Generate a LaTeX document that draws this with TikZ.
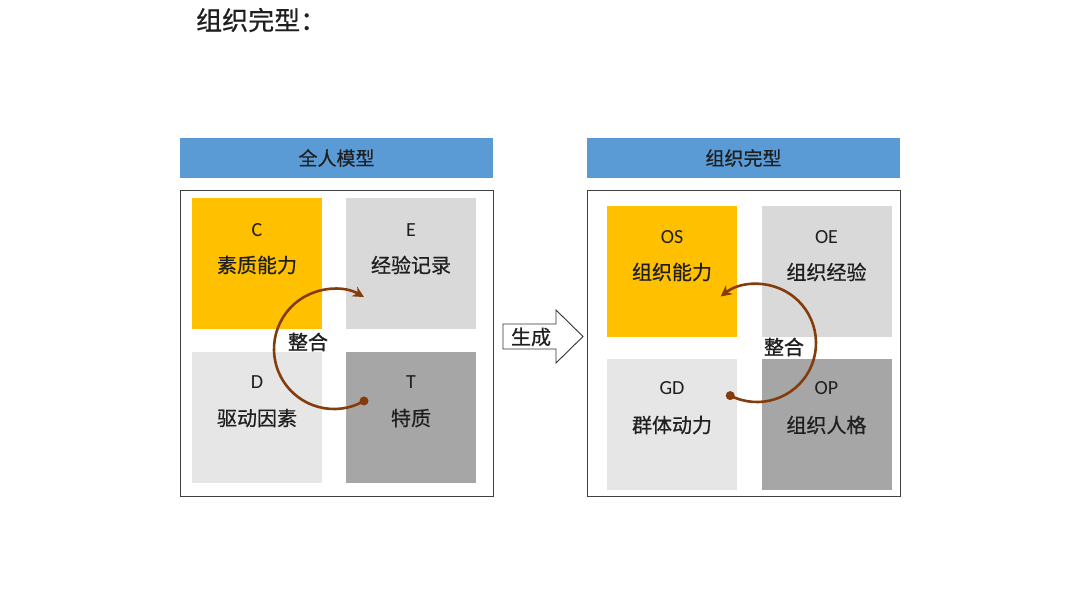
\documentclass[tikz,border=0pt]{standalone}
\usepackage{fontspec}
\setmainfont{Carlito}
\newfontfamily\cjk[FakeBold=0.6]{Noto Sans CJK SC}
\newfontfamily\cjkb[FakeBold=1.3]{Noto Sans CJK SC}
\usetikzlibrary{arrows.meta,calc}
\definecolor{hdrblue}{HTML}{5B9BD5}
\definecolor{cyellow}{HTML}{FFC000}
\definecolor{egray}{HTML}{D9D9D9}
\definecolor{dgray}{HTML}{E6E6E6}
\definecolor{tgray}{HTML}{A6A6A6}
\definecolor{arcbrown}{HTML}{843C0C}
\definecolor{txt}{HTML}{1F1F1F}
\tikzset{
  hdr/.style={fill=hdrblue, draw=none, inner sep=0pt, text=txt, font=\cjk\fontsize{19}{22}\selectfont},
  frame/.style={draw=black!75, line width=1pt, fill=white},
  quad/.style={draw=none, inner sep=0pt, minimum width=130pt, minimum height=131pt},
  letter/.style={text=txt, font=\fontsize{20}{22}\selectfont, inner sep=0pt},
  cname/.style={text=txt, font=\cjk\fontsize{20}{22}\selectfont, inner sep=0pt},
  integ/.style={text=txt, font=\cjkb\fontsize{20}{22}\selectfont, inner sep=0pt},
  cyc/.style={draw=arcbrown, line width=2.6pt, -{Stealth[length=11pt,width=11pt]}},
  dot/.style={circle, fill=arcbrown, inner sep=0pt, minimum size=9pt},
}
\begin{document}
\begin{tikzpicture}[x=1pt,y=-1pt]
\fill[white] (0,0) rectangle (1080,608);
\useasboundingbox (0,0) rectangle (1080,608);

% title
\node[anchor=west, inner sep=0pt, text=txt, font=\cjk\fontsize{26}{30}\selectfont] (title) at (196,20) {组织完型：};

% ---------- left panel ----------
\node[hdr, minimum width=313pt, minimum height=40pt] (lh) at (336.5,158) {全人模型};
\node[frame, minimum width=313pt, minimum height=306pt, inner sep=0pt] (lf) at (336.5,343) {};
\node[quad, fill=cyellow] (C) at (257,263.5) {};
\node[quad, fill=egray] (E) at (411,263.5) {};
\node[quad, fill=dgray] (D) at (257,417) {};
\node[quad, fill=tgray] (T) at (411,417) {};
\node[letter] (Cl) at (257,230) {C};
\node[cname] (Cn) at (257,265) {素质能力};
\node[letter] (El) at (411,230) {E};
\node[cname] (En) at (411,265) {经验记录};
\node[letter] (Dl) at (257,382) {D};
\node[cname] (Dn) at (257,418) {驱动因素};
\node[letter] (Tl) at (411,382) {T};
\node[cname] (Tn) at (411,418) {特质};

\coordinate (lc) at (334,349);
\node[dot] (ldot) at ($(lc)+(60:60)$) {};
\draw[cyc] (ldot.center) arc[start angle=60, end angle=300, radius=60];
\node[integ] (li) at (308,342) {整合};

% ---------- generate arrow ----------
\draw[draw=black!80, line width=0.9pt, fill=white]
  (503,324) -- (556,324) -- (556,310) -- (583,336.5) -- (556,363) -- (556,349) -- (503,349) -- cycle;
\node[cname] (gen) at (531,337) {生成};

% ---------- right panel ----------
\node[hdr, minimum width=313pt, minimum height=40pt] (rh) at (743.5,158) {组织完型};
\node[frame, minimum width=313pt, minimum height=306pt, inner sep=0pt] (rf) at (743.5,343) {};
\node[quad, fill=cyellow] (OS) at (672,271.5) {};
\node[quad, fill=egray] (OE) at (826.5,271.5) {};
\node[quad, fill=dgray] (GD) at (672,424) {};
\node[quad, fill=tgray] (OP) at (826.5,424) {};
\node[letter] (OSl) at (672,237) {OS};
\node[cname] (OSn) at (672,272) {组织能力};
\node[letter] (OEl) at (826.5,237) {OE};
\node[cname] (OEn) at (826.5,272) {组织经验};
\node[letter] (GDl) at (672,388) {GD};
\node[cname] (GDn) at (672,425) {群体动力};
\node[letter] (OPl) at (826.5,388) {OP};
\node[cname] (OPn) at (826.5,425) {组织人格};

\coordinate (rc) at (757,343);
\node[dot] (rdot) at ($(rc)+(117:59)$) {};
\draw[cyc] (rdot.center) arc[start angle=117, end angle=-128, radius=59];
\node[integ] (ri) at (784,347) {整合};
\end{tikzpicture}
\end{document}
